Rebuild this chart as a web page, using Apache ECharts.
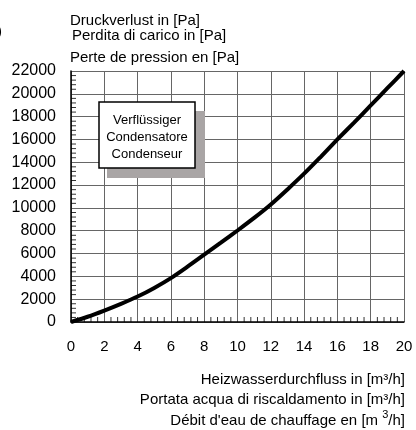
<!DOCTYPE html>
<html>
<head>
<meta charset="utf-8">
<script src="https://cdn.jsdelivr.net/npm/echarts@6/dist/echarts.min.js"></script>
<style>html,body{margin:0;padding:0;background:#fff;}#c{width:416px;height:430px;}</style>
</head>
<body>
<div id="c"></div>
<script>
const flow = [0,1,2,3,4,5,6,7,8,9,10,11,12,13,14,15,16,17,18,19,20];
const pressure = [0,460,1000,1590,2230,2990,3850,4850,5900,6950,8020,9120,10300,11620,13000,14480,16000,17480,18980,20490,22000];
const yTitleLines = ['Druckverlust in [Pa]','Perdita di carico in [Pa]','Perte de pression en [Pa]'];
const boxLines = ['Verflüssiger','Condensatore','Condenseur'];
const xTitle1 = 'Heizwasserdurchfluss in [m³/h]';
const xTitle2 = 'Portata acqua di riscaldamento in [m³/h]';

const FONT = 'Liberation Sans, Arial, sans-serif';
const chart = echarts.init(document.getElementById('c'), null, {renderer:'canvas'});
const data = flow.map((x,i)=>[x,pressure[i]]);
// minor tick positions (axis furniture)
const xMinor = [], yMinor = [];
for (let i = 1; i < 50; i++) if (i % 5) xMinor.push([i * 0.4, 0]);
for (let i = 1; i < 55; i++) if (i % 5) yMinor.push([0, i * 400]);
chart.setOption({
  animation:false,
  backgroundColor:'#fff',
  grid:{left:71,right:12,top:71,bottom:108},
  xAxis:{type:'value',min:0,max:20,interval:2,
    axisLine:{show:true,onZero:false,lineStyle:{color:'#000',width:1.5}},
    axisTick:{show:false},
    splitLine:{show:true,lineStyle:{color:'#666',width:1}},
    axisLabel:{color:'#000',fontSize:15,fontFamily:FONT,margin:17,formatter:v=>String(v)}},
  yAxis:{type:'value',min:0,max:22000,interval:2000,
    axisLine:{show:true,onZero:false,lineStyle:{color:'#000',width:1.5}},
    axisTick:{show:false},
    splitLine:{show:true,lineStyle:{color:'#666',width:1}},
    axisLabel:{color:'#000',fontSize:16,fontFamily:FONT,margin:15,formatter:v=>String(v)}},
  series:[
    {type:'scatter',data:xMinor,symbol:'rect',symbolSize:[1,5],symbolOffset:[0,-2.5],
      itemStyle:{color:'#000'},silent:true,z:3},
    {type:'scatter',data:yMinor,symbol:'rect',symbolSize:[5,1],symbolOffset:[2.5,0],
      itemStyle:{color:'#000'},silent:true,z:3},
    {type:'line',data:data,smooth:0.3,symbol:'none',
    lineStyle:{color:'#000',width:4},z:5}],
  graphic:[
    {type:'text',left:-3,top:24,style:{text:')',fontSize:15,fontFamily:FONT,fill:'#000'}},
    {type:'text',left:70,top:13,style:{text:yTitleLines[0],fontSize:15,fontFamily:FONT,fill:'#000'}},
    {type:'text',left:72,top:28,style:{text:yTitleLines[1],fontSize:15,fontFamily:FONT,fill:'#000'}},
    {type:'text',left:70,top:50,style:{text:yTitleLines[2],fontSize:15,fontFamily:FONT,fill:'#000'}},
    {type:'rect',shape:{x:107,y:111,width:98,height:67},style:{fill:'#a9a5a5'},z:10},
    {type:'rect',shape:{x:99,y:102,width:96,height:66},style:{fill:'#fff',stroke:'#000',lineWidth:1.5},z:11},
    {type:'text',x:147,y:120,z:12,style:{text:boxLines[0],fontSize:13,fontFamily:FONT,fill:'#000',align:'center',verticalAlign:'middle'}},
    {type:'text',x:147,y:137,z:12,style:{text:boxLines[1],fontSize:13,fontFamily:FONT,fill:'#000',align:'center',verticalAlign:'middle'}},
    {type:'text',x:147,y:154,z:12,style:{text:boxLines[2],fontSize:13,fontFamily:FONT,fill:'#000',align:'center',verticalAlign:'middle'}},
    {type:'text',x:405,y:380,style:{text:xTitle1,fontSize:15,fontFamily:FONT,fill:'#000',align:'right',verticalAlign:'middle'}},
    {type:'text',x:405,y:400,style:{text:xTitle2,fontSize:15,fontFamily:FONT,fill:'#000',align:'right',verticalAlign:'middle'}},
    {type:'text',x:405,y:421,style:{text:"{a|Débit d'eau de chauffage en [m }{s|3}{a|/h]}",align:'right',verticalAlign:'middle',
      rich:{a:{fontSize:15,fontFamily:FONT,fill:'#000',color:'#000'},s:{fontSize:11,fontFamily:FONT,color:'#000',verticalAlign:'top',padding:[0,0,12,0]}}}}
  ]
});
</script>
</body>
</html>
